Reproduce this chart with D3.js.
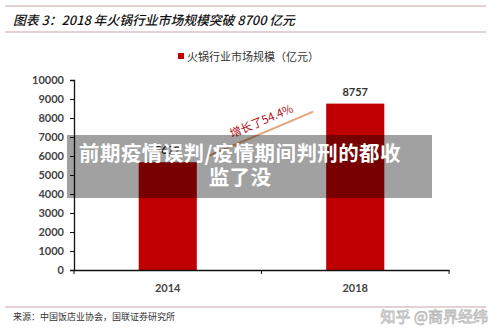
<!DOCTYPE html>
<html><head><meta charset="utf-8">
<script src="https://cdn.jsdelivr.net/npm/d3@7"></script>
<style>body{margin:0;background:#fff}svg{display:block}</style>
</head><body>
<script>
const categories = ["2014", "2018"];
const values = [5672, 8757];
const yTicks = [0,1000,2000,3000,4000,5000,6000,7000,8000,9000,10000];
const titleText = "图表 3：2018 年火锅行业市场规模突破 8700 亿元";
const legendText = "火锅行业市场规模（亿元）";
const growthText = "增长了54.4%";
const sourceText = "来源：中国饭店业协会，国联证券研究所";
const overlayLines = ["前期疫情误判/疫情期间判刑的都收", "监了没"];
const watermark = "知乎 @商界经纬";

const W = 500, H = 333;
const svg = d3.select("body").append("svg").attr("width", W).attr("height", H);
const cjk = "'Noto Sans CJK SC', 'Noto Sans', sans-serif";
const lat = "Lato, 'Open Sans', 'DejaVu Sans', sans-serif";

// rules
[6, 32, 307].forEach(y => svg.append("line").attr("x1", 5).attr("x2", 486)
  .attr("y1", y).attr("y2", y).attr("stroke", "#c9a3a6").attr("stroke-width", 1));

svg.append("text").attr("x", 13).attr("y", 25).attr("font-family", cjk)
  .attr("font-size", 12.8).attr("font-style", "italic").attr("font-weight", 500).attr("fill", "#111")
  .text(titleText);

// legend
svg.append("rect").attr("x", 178).attr("y", 53).attr("width", 6).attr("height", 6).attr("fill", "#c00000");
svg.append("text").attr("x", 187).attr("y", 61).attr("font-family", cjk).attr("font-size", 11)
  .attr("fill", "#333").text(legendText);

const x = d3.scaleBand().domain(categories).range([74, 449]).padding(0);
const y = d3.scaleLinear().domain([0, 10000]).range([270, 80]);
const barW = x.bandwidth() * 0.31;

svg.selectAll("rect.bar").data(values).join("rect").attr("class", "bar")
  .attr("x", (d, i) => x(categories[i]) + x.bandwidth()/2 - barW/2)
  .attr("y", d => y(d)).attr("width", barW).attr("height", d => y(0) - y(d))
  .attr("fill", "#c00000");

svg.selectAll("text.val").data(values).join("text").attr("class", "val")
  .attr("x", (d, i) => x(categories[i]) + x.bandwidth()/2).attr("y", d => y(d) - 8)
  .attr("text-anchor", "middle").attr("font-family", lat).attr("font-weight", "bold")
  .attr("font-size", 11).attr("fill", "#333").text(d => d);

// y axis
const yAxis = svg.append("g").attr("transform", "translate(74,0)")
  .call(d3.axisLeft(y).tickValues(yTicks).tickSize(4).tickPadding(6).tickFormat(d3.format("d")));
yAxis.select(".domain").attr("stroke", "#111").attr("stroke-width", 1.3);
yAxis.selectAll(".tick line").attr("stroke", "#111");
yAxis.selectAll("text").attr("font-family", lat).attr("font-size", 11).attr("font-weight", "bold").attr("fill", "#444");

// x axis
const xAxis = svg.append("g").attr("transform", "translate(0,270)")
  .call(d3.axisBottom(x).tickSize(0).tickPadding(14));
xAxis.select(".domain").attr("stroke", "#111").attr("stroke-width", 1.3);
xAxis.selectAll("text").attr("font-family", lat).attr("font-size", 11).attr("font-weight", "bold").attr("fill", "#444");
[74, 261.5, 449].forEach(px => xAxis.append("line").attr("x1", px).attr("x2", px).attr("y1", 0).attr("y2", 4).attr("stroke", "#111"));

// growth arrow line
const x0 = x("2014") + x.bandwidth()/2 + 40, y0 = y(values[0]) - 6;
const x1 = x("2018") + x.bandwidth()/2 - 42, y1 = y(values[1]) + 8;
svg.append("line").attr("x1", x0).attr("y1", y0).attr("x2", x1).attr("y2", y1)
  .attr("stroke", "#e6a47c").attr("stroke-width", 2);
const ang = Math.atan2(y1 - y0, x1 - x0) * 180 / Math.PI;
svg.append("text").attr("transform", `translate(232,138) rotate(${ang})`)
  .attr("font-family", cjk).attr("font-size", 11.5).attr("fill", "#b01020").text(growthText);

// source
svg.append("text").attr("x", 13).attr("y", 320).attr("font-family", cjk).attr("font-size", 9)
  .attr("fill", "#333").text(sourceText);
svg.append("text").attr("x", 488).attr("y", 322).attr("text-anchor", "end").attr("font-family", cjk)
  .attr("font-size", 15).attr("fill", "#fff").attr("stroke", "#bbb").attr("stroke-width", 0.8).text(watermark);

// overlay
svg.append("rect").attr("x", 67).attr("y", 135).attr("width", 365).attr("height", 63).attr("fill", "rgba(0,0,0,0.37)");
overlayLines.forEach((t, i) => svg.append("text").attr("x", 240).attr("y", 161 + i*24)
  .attr("text-anchor", "middle").attr("font-family", cjk).attr("font-weight", "bold")
  .attr("font-size", 20.5).attr("letter-spacing", 0.4).attr("fill", "#fff").text(t));
</script>
</body></html>
